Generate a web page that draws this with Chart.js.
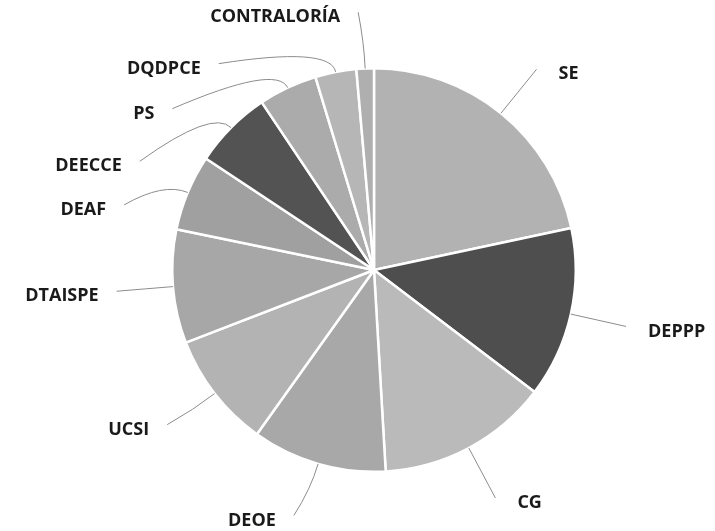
<!DOCTYPE html>
<html>
<head>
<meta charset="utf-8">
<script src="https://cdn.jsdelivr.net/npm/chart.js@4/dist/chart.umd.min.js"></script>
<style>
  html, body { margin: 0; padding: 0; background: #ffffff; }
  #wrap { width: 715px; height: 531px; position: relative; }
</style>
</head>
<body>
<div id="wrap"><canvas id="c" width="715" height="531"></canvas></div>
<script>
// ---- data (shares in %) ----
const categories = ['SE', 'DEPPP', 'CG', 'DEOE', 'UCSI', 'DTAISPE', 'DEAF', 'DEECCE', 'PS', 'DQDPCE', 'CONTRALORÍA'];
const shares = [21.7, 13.7, 13.75, 10.8, 9.3, 9.1, 6.1, 6.3, 4.7, 3.3, 1.4];
const sliceColors = ['#b2b2b2', '#4e4e4e', '#bababa', '#a8a8a8', '#b3b3b3', '#a7a7a7', '#a0a0a0', '#535353', '#ababab', '#b6b6b6', '#afafaf'];

// label callout layout (angular shift of the label end point, degrees, clockwise)
const calloutShift = [0, 0, 0, 2, 1, 0, -8, -20, -26, -26, -1];

const calloutPlugin = {
  id: 'callouts',
  afterDatasetsDraw(chart) {
    const ctx = chart.ctx;
    const meta = chart.getDatasetMeta(0);
    ctx.save();
    meta.data.forEach((arc, i) => {
      const p = arc.getProps(['x', 'y', 'startAngle', 'endAngle', 'outerRadius'], true);
      const mid = (p.startAngle + p.endAngle) / 2;
      const R = p.outerRadius;
      const la = mid + calloutShift[i] * Math.PI / 180;
      const s = { x: p.x + R * Math.cos(mid), y: p.y + R * Math.sin(mid) };
      const m = { x: p.x + R * 1.13 * Math.cos(mid), y: p.y + R * 1.13 * Math.sin(mid) };
      const e = { x: p.x + R * 1.28 * Math.cos(la), y: p.y + R * 1.28 * Math.sin(la) };
      ctx.beginPath();
      ctx.strokeStyle = '#8c8c8c';
      ctx.lineWidth = 1;
      ctx.moveTo(s.x, s.y);
      ctx.quadraticCurveTo(m.x, m.y, e.x, e.y);
      ctx.stroke();
      ctx.fillStyle = '#1a1a1a';
      ctx.font = 'bold 18px "Open Sans", sans-serif';
      ctx.textBaseline = 'middle';
      if (Math.cos(la) >= 0) {
        ctx.textAlign = 'left';
        ctx.fillText(categories[i], e.x + 22, e.y + 5);
      } else {
        ctx.textAlign = 'right';
        ctx.fillText(categories[i], e.x - 18, e.y + 5);
      }
    });
    ctx.restore();
  }
};

new Chart(document.getElementById('c'), {
  type: 'pie',
  data: {
    labels: categories,
    datasets: [{
      data: shares,
      backgroundColor: sliceColors,
      borderColor: '#ffffff',
      borderWidth: 2.5
    }]
  },
  options: {
    responsive: false,
    animation: false,
    devicePixelRatio: 1,
    layout: { padding: { left: 171, right: 138, top: 67, bottom: 58 } },
    plugins: {
      legend: { display: false },
      tooltip: { enabled: false }
    }
  },
  plugins: [calloutPlugin]
});
</script>
</body>
</html>
